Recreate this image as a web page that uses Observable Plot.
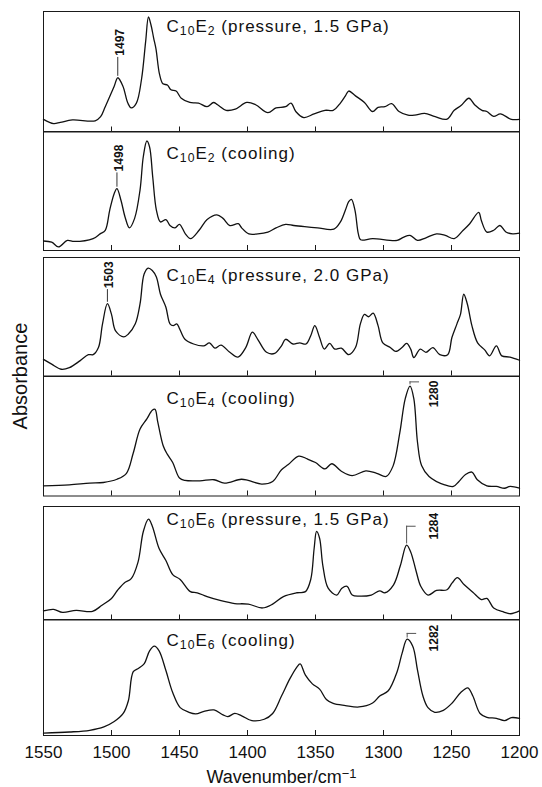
<!DOCTYPE html>
<html><head><meta charset="utf-8">
<script src="https://cdn.jsdelivr.net/npm/d3@7"></script>
<script src="https://cdn.jsdelivr.net/npm/@observablehq/plot@0.6"></script>
<style>
body{margin:0;background:#fff;}
#fig{position:relative;width:542px;height:787px;font-family:"Liberation Sans",Arial,sans-serif;overflow:hidden;}
.panel{position:absolute;left:0;}
.panel svg{overflow:visible;}
#ylab{position:absolute;left:20px;top:376px;transform:translate(-50%,-50%) rotate(-90deg);font-size:20px;white-space:nowrap;color:#111;}
</style></head><body><div id="fig"><div id="ylab">Absorbance</div></div>
<script>
// ---------------- data ----------------
const xTicks = [1550,1500,1450,1400,1350,1300,1250,1200];
const innerTicks = [1500,1450,1400,1350,1300,1250];

const titles = [
  "C_{10}E_{2} (pressure, 1.5 GPa)",
  "C_{10}E_{2} (cooling)",
  "C_{10}E_{4} (pressure, 2.0 GPa)",
  "C_{10}E_{4} (cooling)",
  "C_{10}E_{6} (pressure, 1.5 GPa)",
  "C_{10}E_{6} (cooling)"
];

const c10e2Pressure = [[1550,0.105],[1542.6,0.07],[1537.6,0.08],[1528.7,0.10],[1512,0.093],[1508,0.127],[1504.6,0.21],[1498,0.38],[1495.4,0.45],[1491.6,0.38],[1488,0.24],[1485.5,0.20],[1481.7,0.24],[1477.9,0.44],[1474.9,0.75],[1472.8,0.955],[1471,0.89],[1469,0.78],[1467.3,0.69],[1464.7,0.48],[1462.2,0.40],[1458.9,0.39],[1456.3,0.35],[1452.5,0.34],[1448.7,0.28],[1442.4,0.245],[1436,0.24],[1429.7,0.21],[1425,0.245],[1422,0.226],[1415.7,0.18],[1409,0.19],[1400.5,0.245],[1394,0.226],[1385,0.16],[1379,0.20],[1372,0.21],[1368,0.24],[1364.5,0.17],[1358.6,0.12],[1351,0.15],[1343,0.18],[1337,0.18],[1331.7,0.24],[1328,0.30],[1325.6,0.34],[1320.6,0.30],[1314,0.245],[1308,0.17],[1304,0.205],[1299,0.21],[1294,0.235],[1288.6,0.17],[1282,0.14],[1277,0.14],[1269.8,0.155],[1262,0.127],[1253.3,0.107],[1248,0.18],[1243,0.22],[1237.2,0.28],[1233,0.226],[1227.6,0.18],[1224,0.17],[1219,0.13],[1214,0.15],[1206,0.105],[1200,0.105]];

const c10e2Cooling = [[1550,0.08],[1544,0.07],[1539,0.03],[1532.5,0.085],[1527.4,0.076],[1513.5,0.10],[1508.4,0.14],[1504.6,0.17],[1501.3,0.34],[1498,0.48],[1496,0.52],[1493,0.42],[1490,0.28],[1486.8,0.19],[1483,0.27],[1479,0.51],[1476.6,0.79],[1474,0.92],[1472,0.87],[1469.7,0.62],[1467,0.34],[1464,0.24],[1460,0.26],[1457,0.21],[1453.3,0.19],[1450,0.22],[1445.7,0.14],[1441.9,0.10],[1435.6,0.17],[1429.7,0.26],[1422.5,0.30],[1418,0.27],[1413,0.21],[1406.8,0.225],[1404.3,0.19],[1399,0.14],[1392.4,0.14],[1385,0.155],[1379,0.19],[1372,0.22],[1366,0.21],[1358,0.20],[1348.5,0.19],[1336.5,0.18],[1331.7,0.24],[1328,0.34],[1325.6,0.41],[1323.6,0.43],[1321,0.34],[1318.5,0.14],[1316.8,0.09],[1308,0.10],[1290,0.085],[1285.5,0.11],[1280.5,0.127],[1275,0.085],[1268.8,0.107],[1261,0.14],[1254.6,0.127],[1248,0.10],[1241.4,0.17],[1236.6,0.225],[1230,0.32],[1228,0.25],[1224,0.155],[1219,0.17],[1214.4,0.21],[1210,0.155],[1205,0.14],[1200,0.146]];

const c10e4Pressure = [[1550,0.14],[1544,0.10],[1537,0.057],[1531,0.07],[1523,0.13],[1517,0.18],[1513.5,0.18],[1509.6,0.24],[1506.6,0.44],[1503,0.61],[1500,0.52],[1497,0.38],[1491,0.33],[1487.6,0.354],[1482.5,0.44],[1479,0.61],[1476,0.86],[1473,0.91],[1470,0.89],[1467,0.835],[1464,0.69],[1460,0.58],[1457,0.44],[1454.6,0.425],[1452,0.44],[1450,0.40],[1446,0.31],[1439.6,0.27],[1432,0.255],[1428,0.28],[1424,0.235],[1419.5,0.26],[1413,0.20],[1407,0.16],[1401.3,0.24],[1396.4,0.37],[1392.5,0.31],[1386,0.20],[1380,0.19],[1375,0.255],[1372,0.31],[1366.5,0.27],[1361.6,0.28],[1357,0.27],[1353.5,0.34],[1350.5,0.425],[1347,0.325],[1343.5,0.227],[1339.6,0.275],[1335.8,0.227],[1331,0.235],[1325.6,0.18],[1320.6,0.24],[1317,0.44],[1314,0.52],[1311,0.50],[1307.6,0.53],[1304,0.425],[1300.5,0.28],[1295,0.24],[1291,0.207],[1286.4,0.24],[1283,0.275],[1280,0.227],[1277.7,0.156],[1273,0.227],[1268.8,0.20],[1263.7,0.24],[1258.6,0.18],[1252.8,0.18],[1249.7,0.325],[1246,0.44],[1243.4,0.52],[1241,0.69],[1238.4,0.61],[1235,0.425],[1230.8,0.28],[1225.6,0.22],[1222,0.17],[1217,0.255],[1213,0.17],[1207,0.16],[1200,0.133]];

const c10e4Cooling = [[1550,0.085],[1531,0.093],[1516,0.108],[1506,0.113],[1496,0.14],[1489,0.19],[1484,0.36],[1479,0.56],[1474,0.645],[1470,0.717],[1468,0.725],[1466,0.62],[1462,0.42],[1459,0.35],[1455,0.28],[1450,0.15],[1446,0.13],[1435,0.127],[1424.6,0.136],[1417,0.108],[1404.6,0.14],[1399.5,0.13],[1389.5,0.10],[1381.5,0.122],[1375,0.22],[1370,0.263],[1362.3,0.334],[1356,0.31],[1350,0.28],[1343,0.227],[1338,0.27],[1331,0.207],[1323,0.17],[1313,0.21],[1305,0.19],[1298,0.164],[1293,0.25],[1288,0.53],[1284,0.815],[1280.5,0.92],[1277.7,0.815],[1275,0.45],[1272,0.255],[1266.5,0.164],[1255,0.093],[1248.6,0.08],[1244.7,0.12],[1239.7,0.18],[1235,0.20],[1231,0.136],[1224,0.085],[1217,0.08],[1211,0.065],[1207,0.08],[1200,0.065]];

const c10e6Pressure = [[1550,0.08],[1542.6,0.094],[1536,0.067],[1526,0.085],[1514,0.076],[1507,0.13],[1500,0.19],[1495.7,0.26],[1490.6,0.327],[1485.5,0.364],[1480.5,0.51],[1476.6,0.78],[1472.8,0.888],[1470,0.827],[1465,0.63],[1460,0.524],[1455,0.40],[1449.5,0.357],[1442,0.25],[1437,0.24],[1429.7,0.206],[1419.5,0.17],[1409.4,0.145],[1399.4,0.14],[1389,0.106],[1381.5,0.14],[1373.6,0.206],[1363.7,0.24],[1357.4,0.25],[1353.5,0.357],[1351,0.63],[1349.2,0.78],[1347,0.72],[1344.6,0.48],[1340.7,0.28],[1334.4,0.22],[1330.6,0.28],[1326.8,0.297],[1323,0.22],[1318,0.21],[1309,0.22],[1302.8,0.257],[1299,0.24],[1292.6,0.31],[1287.6,0.48],[1283,0.66],[1280,0.60],[1276,0.43],[1272.6,0.297],[1267.3,0.22],[1261,0.26],[1253.3,0.267],[1249.5,0.327],[1245.7,0.373],[1240.6,0.31],[1234.3,0.245],[1228,0.18],[1224,0.19],[1219,0.106],[1211.5,0.07],[1206.5,0.055],[1200,0.08]];

const c10e6Cooling = [[1550,0.02],[1531,0.03],[1516,0.045],[1505.6,0.074],[1498,0.12],[1491.4,0.19],[1487.6,0.30],[1484,0.55],[1480,0.58],[1475.9,0.62],[1472,0.73],[1468.5,0.77],[1465,0.73],[1460,0.56],[1455,0.37],[1449.5,0.24],[1443,0.20],[1438,0.187],[1432,0.208],[1424.6,0.22],[1418,0.178],[1414.5,0.163],[1409.4,0.19],[1404.3,0.17],[1396.8,0.128],[1387.7,0.14],[1381.5,0.19],[1375,0.34],[1368.8,0.49],[1363.7,0.59],[1361.3,0.617],[1357.4,0.52],[1352.3,0.445],[1347,0.40],[1342,0.31],[1337,0.276],[1328,0.258],[1318,0.246],[1308,0.28],[1302.8,0.34],[1296.5,0.386],[1290,0.55],[1286.3,0.71],[1282.6,0.83],[1278.5,0.77],[1275,0.564],[1271,0.34],[1267.3,0.24],[1262.3,0.20],[1256,0.217],[1249.5,0.28],[1243.2,0.37],[1238,0.41],[1234.3,0.34],[1229,0.19],[1224,0.157],[1217,0.148],[1211,0.128],[1206,0.154],[1200,0.148]];

const series = [c10e2Pressure, c10e2Cooling, c10e4Pressure, c10e4Cooling, c10e6Pressure, c10e6Cooling];

const annoText = ["1497","1498","1503","1280","1284","1282"];
const annoWn = [1495.4, 1496, 1503, 1280.5, 1283, 1282.6];

const xLabel = "Wavenumber/cm^{−1}";
const yLabel = "Absorbance";

// ---------------- layout ----------------
const panelTop = [10.5, 131, 257, 375.5, 505.5, 619];
const panelBottom = [131, 250, 375.5, 495, 619, 735];
const titleWn = 1459.5;
const titleBaseline = [20.5, 27.5, 24, 27.5, 18.5, 27];
const annoKind = ["tick","tick","tick","bracket","bracket","bracket"];
const annoLabelY = [0.744, 0.777, 0.854, 0.854, 0.827, 0.84];
const annoLevel = [null, null, null, 0.955, 0.826, 0.88];
const bracketLabelWn = 1263;
const bracketArmWn = 7;
const FONT = '"Liberation Sans", Arial, Helvetica, sans-serif';

// rich text: _{..} subscript, ^{..} superscript
function richify(svg) {
  d3.select(svg).selectAll("text").each(function() {
    const t = this.textContent;
    if (!/[_^]\{/.test(t)) return;
    const el = d3.select(this);
    el.text(null);
    const re = /([_^])\{([^}]*)\}/g;
    let last = 0, m;
    while ((m = re.exec(t))) {
      if (m.index > last) el.append("tspan").text(t.slice(last, m.index));
      el.append("tspan")
        .attr("baseline-shift", m[1] === "_" ? "-22%" : "38%")
        .attr("font-size", "72%")
        .text(m[2]);
      last = re.lastIndex;
    }
    if (last < t.length) el.append("tspan").text(t.slice(last));
  });
}

const fig = document.getElementById("fig");
d3.select("#ylab").text(yLabel);

series.forEach((data, i) => {
  const h = panelBottom[i] - panelTop[i];
  const mt = 14;
  const last = i === series.length - 1;
  const mb = last ? 52 : 14;
  const peak = d3.max(data.filter(d => Math.abs(d[0] - annoWn[i]) <= 3), d => d[1]);
  const anno = [{text: annoText[i], wn: annoWn[i], peak}];
  const marks = [
    Plot.frame({stroke: "#1a1a1a", strokeWidth: 1}),
    Plot.tickX(innerTicks, {x: d => d, insetTop: h - 5, stroke: "#1a1a1a", strokeWidth: 1}),
    Plot.line(data, {x: d => d[0], y: d => d[1], curve: "catmull-rom", stroke: "#111", strokeWidth: 1.3}),
    Plot.text([titles[i]], {x: () => titleWn, frameAnchor: "top", dy: titleBaseline[i] - 5.5, lineAnchor: "middle", textAnchor: "start", fontSize: 17, fill: "#111", className: "ptitle"})
  ];
  if (annoKind[i] === "tick") {
    marks.push(Plot.ruleX(anno, {x: "wn", y1: d => d.peak + 0.012, y2: annoLabelY[i] - 0.125, stroke: "#333", strokeWidth: 1}));
    marks.push(Plot.text(anno, {x: "wn", y: () => annoLabelY[i], text: "text", rotate: -90, dx: 2, fontSize: 12, fontWeight: "bold", fill: "#111"}));
  } else {
    marks.push(Plot.ruleX(anno, {x: "wn", y1: d => d.peak + 0.01, y2: () => annoLevel[i], stroke: "#555", strokeWidth: 1}));
    marks.push(Plot.ruleY(anno, {y: () => annoLevel[i], x1: "wn", x2: d => d.wn - bracketArmWn, stroke: "#555", strokeWidth: 1}));
    marks.push(Plot.text(anno, {x: () => bracketLabelWn, y: () => annoLabelY[i], text: "text", rotate: -90, fontSize: 12, fontWeight: "bold", fill: "#111"}));
  }
  if (last) {
    marks.push(Plot.axisX(xTicks, {anchor: "bottom", tickSize: 0, tickPadding: 10, tickFormat: d => String(d), fontSize: 17, label: null, fill: "#111"}));
    marks.push(Plot.text([xLabel], {frameAnchor: "bottom", dy: 42, lineAnchor: "middle", fontSize: 18, fill: "#111"}));
  }
  const svg = Plot.plot({
    width: 542,
    height: h + mt + mb,
    marginTop: mt, marginBottom: mb, marginLeft: 43, marginRight: 23,
    x: {domain: [1550, 1200], axis: null},
    y: {domain: [0, 1], axis: null},
    style: {fontFamily: FONT, background: "transparent", overflow: "visible", color: "#111"},
    marks
  });
  richify(svg);
  d3.select(svg).selectAll(".ptitle text").style("letter-spacing", "1px");
  const div = document.createElement("div");
  div.className = "panel";
  div.style.top = (panelTop[i] - mt) + "px";
  div.appendChild(svg);
  fig.appendChild(div);
});
</script></body></html>
